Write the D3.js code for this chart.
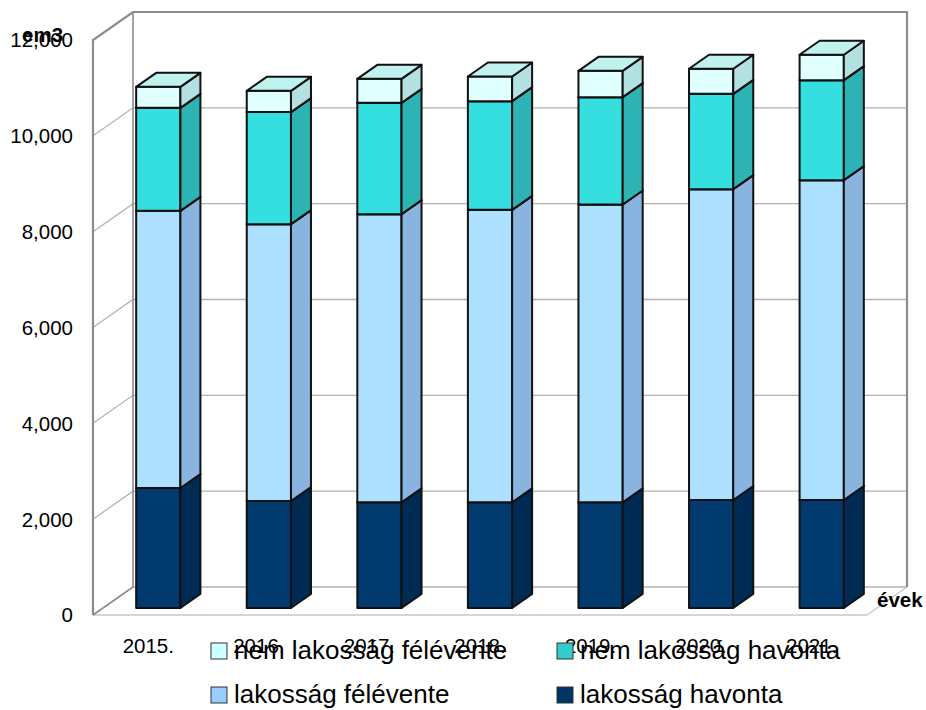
<!DOCTYPE html>
<html><head><meta charset="utf-8">
<script src="https://cdn.jsdelivr.net/npm/d3@7"></script>
<style>body{margin:0;background:#fff}svg{display:block;font-family:"Liberation Sans",Arial,sans-serif}</style>
</head><body><svg id="c" width="926" height="710"></svg>
<script>
const years = ["2015.","2016.","2017.","2018.","2019.","2020.","2021."];
const lakHavonta   = [2505, 2234, 2205, 2205, 2205, 2255, 2255];
const lakFelevente = [5783, 5776, 6014, 6104, 6215, 6486, 6674];
const nemHavonta   = [2150, 2339, 2324, 2269, 2241, 1990, 2087];
const nemFelevente = [ 439,  444,  501,  514,  550,  522,  529];
const yTicks = [0, 2000, 4000, 6000, 8000, 10000, 12000];
const seriesNames = ["lakosság havonta","lakosság félévente","nem lakosság havonta","nem lakosság félévente"];
const seriesValues = [lakHavonta, lakFelevente, nemHavonta, nemFelevente];
// front, side, top, legend
const colors = [
  {f:"#003a6e", s:"#002b55", t:"#1a4c80", l:"#003366"},
  {f:"#addfff", s:"#8ab4e0", t:"#c4e8ff", l:"#99ccff"},
  {f:"#36dfdf", s:"#2db3b3", t:"#66e8e8", l:"#33cccc"},
  {f:"#e0ffff", s:"#b3e0e0", t:"#c0f2f0", l:"#ccffff"}
];

const svg = d3.select("#c");
const D = {x:40, y:-28};           // wall depth vector
const x = d3.scaleBand().domain(years).range([93, 867]).paddingInner(0).paddingOuter(0);
const y = d3.scaleLinear().domain([0, 12000]).range([615, 40]);
const P = (px, py, z) => [px + D.x*z, py + D.y*z];

// walls
const g = svg.append("g");
const x0 = x.range()[0], x1 = x.range()[1];
// gridlines
yTicks.forEach(v => {
  if (v === 0) return;
  const a = P(x0, y(v), 0), b = P(x0, y(v), 1), c = P(x1, y(v), 1);
  g.append("path").attr("d", d3.line()([a, b, c])).attr("fill","none")
    .attr("stroke","#b3b3b3").attr("stroke-width",1.3);
});
// floor edges
g.append("path").attr("d", d3.line()([P(x0,y(0),0),P(x1,y(0),0),P(x1,y(0),1)]))
  .attr("fill","none").attr("stroke","#c8c8c8").attr("stroke-width",1.3);
g.append("path").attr("d", d3.line()([P(x0,y(0),1),P(x1,y(0),1)]))
  .attr("fill","none").attr("stroke","#b3b3b3").attr("stroke-width",1.3);
// left wall outline and back wall
g.append("path").attr("d", d3.line()([P(x0,y(0),0),P(x0,y(12000),0),P(x0,y(12000),1),P(x1,y(12000),1),P(x1,y(0),1)]))
  .attr("fill","none").attr("stroke","#8c8c8c").attr("stroke-width",2.2);
g.append("path").attr("d", d3.line()([P(x0,y(12000),1),P(x0,y(0),1),P(x0,y(0),0)]))
  .attr("fill","none").attr("stroke","#8c8c8c").attr("stroke-width",1.6);

// bars
const bw = x.bandwidth()*0.4;
const bz0 = 0.25, bz1 = 0.75;
const bars = svg.append("g");
years.forEach((yr, i) => {
  let base = 0;
  const cx = x(yr) + x.bandwidth()/2;
  seriesValues.forEach((vals, s) => {
    const top = base + vals[i];
    const c = colors[s];
    const xl = cx - bw/2, xr = cx + bw/2;
    const fBL = P(xl, y(base), bz0), fBR = P(xr, y(base), bz0), fTR = P(xr, y(top), bz0), fTL = P(xl, y(top), bz0);
    const bBR = P(xr, y(base), bz1), bTR = P(xr, y(top), bz1), bTL = P(xl, y(top), bz1);
    const st = {stroke:"#111", "stroke-width":2, "stroke-linejoin":"round"};
    const poly = (pts, fill) => {
      const p = bars.append("path").attr("d", d3.line()(pts) + "Z").attr("fill", fill);
      Object.entries(st).forEach(([k,v]) => p.attr(k,v));
    };
    poly([fBL, fBR, fTR, fTL], c.f);
    poly([fBR, bBR, bTR, fTR], c.s);
    poly([fTL, fTR, bTR, bTL], c.t);
    base = top;
  });
});

// y axis labels
svg.append("g").selectAll("text").data(yTicks).join("text")
  .attr("x", 73).attr("y", d => y(d)).attr("dy","0.36em")
  .attr("text-anchor","end").attr("font-size",20.5).attr("fill","#000")
  .text(d => d3.format(",")(d));
// x axis labels
svg.append("g").selectAll("text").data(years).join("text")
  .attr("x", d => x(d) + x.bandwidth()/2).attr("y", 653)
  .attr("text-anchor","middle").attr("font-size",20.5).attr("fill","#000")
  .text(d => d);
// axis titles
svg.append("text").attr("x",22).attr("y",42).attr("font-size",20.5).attr("font-weight","bold").text("em3");
svg.append("text").attr("x",877).attr("y",607).attr("font-size",20.5).attr("font-weight","bold").text("évek");

// legend
const legendOrder = [3, 2, 1, 0];
const legPos = [[211,643],[557,643],[211,687],[557,687]];
const leg = svg.append("g");
legendOrder.forEach((s, k) => {
  const [lx, ly] = legPos[k];
  leg.append("rect").attr("x",lx).attr("y",ly).attr("width",16).attr("height",16)
    .attr("fill",colors[s].l).attr("stroke","#333").attr("stroke-width",1);
  leg.append("text").attr("x",lx+23).attr("y",ly+16).attr("font-size",26).attr("fill","#000")
    .text(seriesNames[s]);
});
</script></body></html>
